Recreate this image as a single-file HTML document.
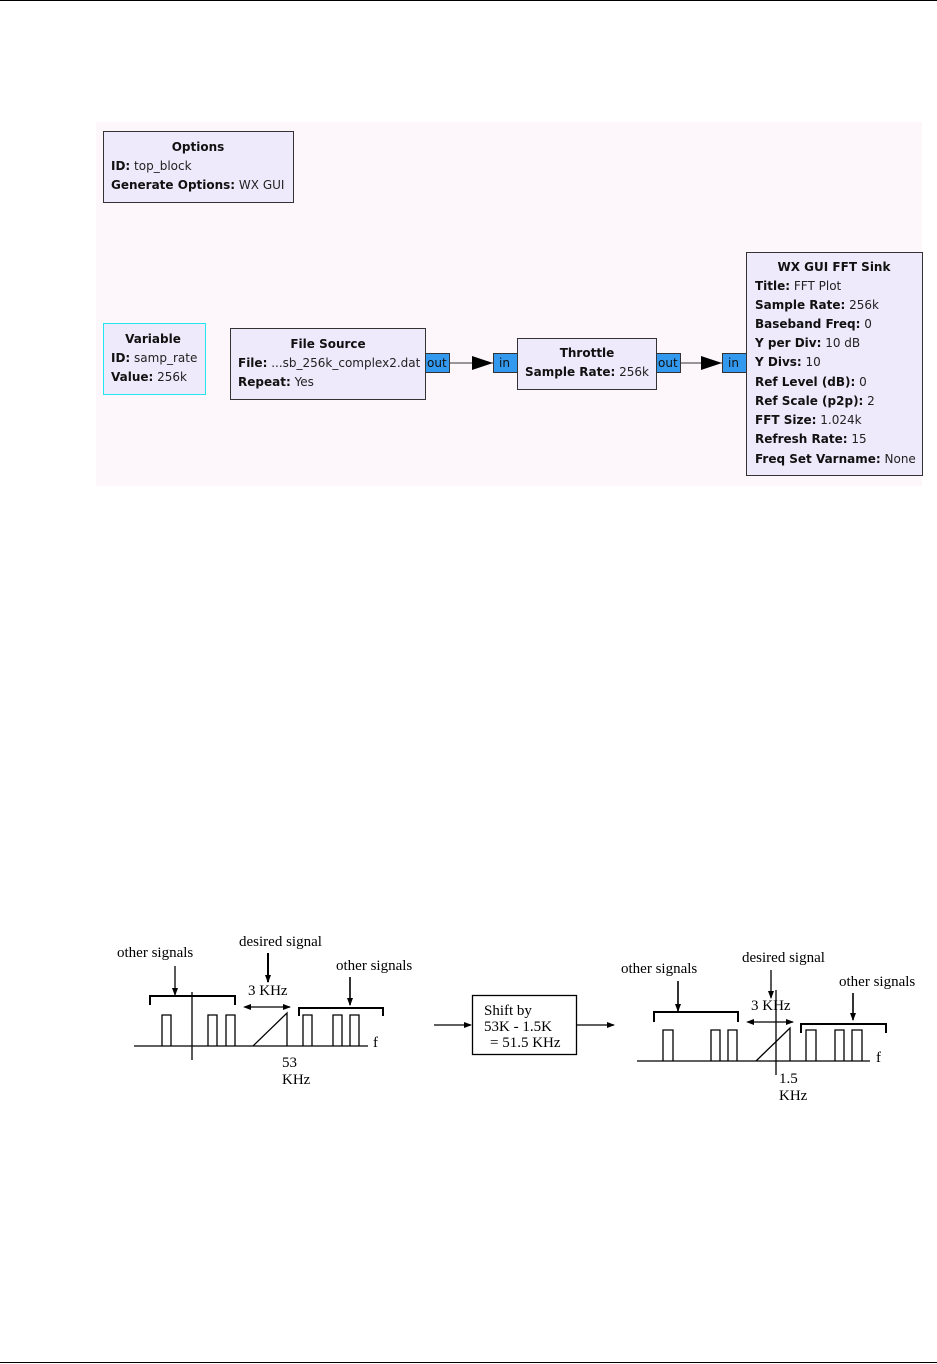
<!DOCTYPE html>
<html><head><meta charset="utf-8"><style>
html,body{margin:0;padding:0;background:#fff;}
svg{display:block;}
.g{font-family:"DejaVu Sans","Liberation Sans",sans-serif;font-size:12px;fill:#222;}
.b{font-weight:bold;fill:#111;}
.s{font-family:"Liberation Serif",serif;font-size:15px;fill:#000;}
</style></head><body>
<svg width="937" height="1364" viewBox="0 0 937 1364" xmlns="http://www.w3.org/2000/svg">
<line x1="0" y1="0.5" x2="937" y2="0.5" stroke="#000" stroke-width="1"/>
<line x1="0" y1="1362.5" x2="937" y2="1362.5" stroke="#000" stroke-width="1"/>
<rect x="96" y="122" width="826" height="364" fill="#fdf7fc"/>
<!-- Options -->
<rect x="103.5" y="131.5" width="190" height="71" fill="#eeeafb" stroke="#333"/>
<text class="g b" x="198" y="151" text-anchor="middle">Options</text>
<text class="g" x="111" y="170"><tspan class="b">ID:</tspan> top_block</text>
<text class="g" x="111" y="189"><tspan class="b">Generate Options:</tspan> WX GUI</text>
<!-- Variable -->
<rect x="103.5" y="323.5" width="102" height="71" fill="#eeeafb" stroke="#22e6f0"/>
<text class="g b" x="153" y="343" text-anchor="middle">Variable</text>
<text class="g" x="111" y="362"><tspan class="b">ID:</tspan> samp_rate</text>
<text class="g" x="111" y="381"><tspan class="b">Value:</tspan> 256k</text>
<!-- File Source -->
<rect x="230.5" y="328.5" width="195" height="71" fill="#eeeafb" stroke="#333"/>
<text class="g b" x="328" y="348" text-anchor="middle">File Source</text>
<text class="g" x="238" y="367"><tspan class="b">File:</tspan> ...sb_256k_complex2.dat</text>
<text class="g" x="238" y="386"><tspan class="b">Repeat:</tspan> Yes</text>
<rect x="425.5" y="353.5" width="24" height="19" fill="#3399ee" stroke="#333"/>
<text class="g" x="427" y="367" style="fill:#111">out</text>
<line x1="449" y1="363" x2="493" y2="363" stroke="#333"/>
<polygon points="472,356 493,363 472,370" fill="#000"/>
<rect x="493.5" y="353.5" width="24" height="19" fill="#3399ee" stroke="#333"/>
<text class="g" x="499" y="367" style="fill:#111">in</text>
<!-- Throttle -->
<rect x="517.5" y="338.5" width="139" height="51" fill="#eeeafb" stroke="#333"/>
<text class="g b" x="587" y="357" text-anchor="middle">Throttle</text>
<text class="g" x="525" y="376"><tspan class="b">Sample Rate:</tspan> 256k</text>
<rect x="656.5" y="353.5" width="24" height="19" fill="#3399ee" stroke="#333"/>
<text class="g" x="658" y="367" style="fill:#111">out</text>
<line x1="680" y1="363" x2="722" y2="363" stroke="#333"/>
<polygon points="701,356 722,363 701,370" fill="#000"/>
<rect x="722.5" y="353.5" width="24" height="19" fill="#3399ee" stroke="#333"/>
<text class="g" x="728" y="367" style="fill:#111">in</text>
<!-- FFT Sink -->
<rect x="746.5" y="252.5" width="176" height="223" fill="#eeeafb" stroke="#333"/>
<text class="g b" x="834" y="271" text-anchor="middle">WX GUI FFT Sink</text>
<text class="g" x="755" y="290"><tspan class="b">Title:</tspan> FFT Plot</text>
<text class="g" x="755" y="309"><tspan class="b">Sample Rate:</tspan> 256k</text>
<text class="g" x="755" y="328"><tspan class="b">Baseband Freq:</tspan> 0</text>
<text class="g" x="755" y="347"><tspan class="b">Y per Div:</tspan> 10 dB</text>
<text class="g" x="755" y="366"><tspan class="b">Y Divs:</tspan> 10</text>
<text class="g" x="755" y="386"><tspan class="b">Ref Level (dB):</tspan> 0</text>
<text class="g" x="755" y="405"><tspan class="b">Ref Scale (p2p):</tspan> 2</text>
<text class="g" x="755" y="424"><tspan class="b">FFT Size:</tspan> 1.024k</text>
<text class="g" x="755" y="443"><tspan class="b">Refresh Rate:</tspan> 15</text>
<text class="g" x="755" y="463"><tspan class="b">Freq Set Varname:</tspan> None</text>

<!-- Bottom diagram left -->
<defs><marker id="ah" markerWidth="8" markerHeight="8" refX="7" refY="4" orient="auto" markerUnits="userSpaceOnUse"><polygon points="0,1 8,4 0,7" fill="#000"/></marker>
<marker id="as" markerWidth="8" markerHeight="8" refX="1" refY="4" orient="auto-start-reverse" markerUnits="userSpaceOnUse"><polygon points="0,1 8,4 0,7" fill="#000"/></marker></defs>
<g stroke="#000" fill="none" stroke-width="1.3">
<text class="s" x="117" y="957" stroke="none">other signals</text>
<line x1="175" y1="966" x2="175" y2="995" marker-end="url(#ah)"/>
<polyline points="150,1005 150,996 235,996 235,1005" stroke-width="2"/>
<line x1="192" y1="992" x2="192" y2="1060"/>
<line x1="134" y1="1046" x2="368" y2="1046"/>
<polyline points="162,1046 162,1015 171,1015 171,1046"/>
<polyline points="208,1046 208,1015 217,1015 217,1046"/>
<polyline points="226,1046 226,1015 235,1015 235,1046"/>
<polyline points="253,1046 287,1013 287,1046"/>
<line x1="250" y1="1007" x2="290" y2="1007" marker-end="url(#ah)" marker-start="url(#as)"/>
<text class="s" x="248" y="995" stroke="none">3 KHz</text>
<text class="s" x="239" y="946" stroke="none">desired signal</text>
<line x1="268" y1="953" x2="268" y2="982" stroke-width="2" marker-end="url(#ah)"/>
<polyline points="299,1016 299,1008 383,1008 383,1016" stroke-width="2"/>
<text class="s" x="336" y="970" stroke="none">other signals</text>
<line x1="350" y1="977" x2="350" y2="1005" stroke-width="1.6" marker-end="url(#ah)"/>
<polyline points="303,1046 303,1015 312,1015 312,1046"/>
<polyline points="333,1046 333,1015 342,1015 342,1046"/>
<polyline points="350,1046 350,1015 359,1015 359,1046"/>
<text class="s" x="373" y="1047" stroke="none">f</text>
<text class="s" x="282" y="1067" stroke="none">53</text>
<text class="s" x="282" y="1084" stroke="none">KHz</text>
<line x1="434" y1="1025" x2="471" y2="1025" marker-end="url(#ah)"/>
<rect x="472.5" y="995.5" width="104" height="59"/>
<text class="s" x="484" y="1015" stroke="none">Shift by</text>
<text class="s" x="484" y="1031" stroke="none">53K - 1.5K</text>
<text class="s" x="490" y="1047" stroke="none">= 51.5 KHz</text>
<line x1="577" y1="1025" x2="614" y2="1025" marker-end="url(#ah)"/>
<!-- right -->
<text class="s" x="621" y="973" stroke="none">other signals</text>
<line x1="678" y1="981" x2="678" y2="1011" stroke-width="1.6" marker-end="url(#ah)"/>
<polyline points="654,1022 654,1012 738,1012 738,1022" stroke-width="2"/>
<line x1="637" y1="1061" x2="870" y2="1061"/>
<polyline points="663,1061 663,1030 673,1030 673,1061"/>
<polyline points="711,1061 711,1030 720,1030 720,1061"/>
<polyline points="728,1061 728,1030 737,1030 737,1061"/>
<line x1="776" y1="990" x2="776" y2="1075"/>
<polyline points="756,1061 790,1028 790,1061"/>
<line x1="753" y1="1022" x2="793" y2="1022" marker-end="url(#ah)" marker-start="url(#as)"/>
<text class="s" x="751" y="1010" stroke="none">3 KHz</text>
<text class="s" x="742" y="962" stroke="none">desired signal</text>
<line x1="771" y1="970" x2="771" y2="998" marker-end="url(#ah)"/>
<polyline points="801,1033 801,1024 886,1024 886,1033" stroke-width="2"/>
<text class="s" x="839" y="986" stroke="none">other signals</text>
<line x1="853" y1="993" x2="853" y2="1020" stroke-width="1.6" marker-end="url(#ah)"/>
<polyline points="806,1061 806,1030 816,1030 816,1061"/>
<polyline points="835,1061 835,1030 844,1030 844,1061"/>
<polyline points="852,1061 852,1030 862,1030 862,1061"/>
<text class="s" x="876" y="1062" stroke="none">f</text>
<text class="s" x="779" y="1083" stroke="none">1.5</text>
<text class="s" x="779" y="1100" stroke="none">KHz</text>
</g>
</svg>
</body></html>
